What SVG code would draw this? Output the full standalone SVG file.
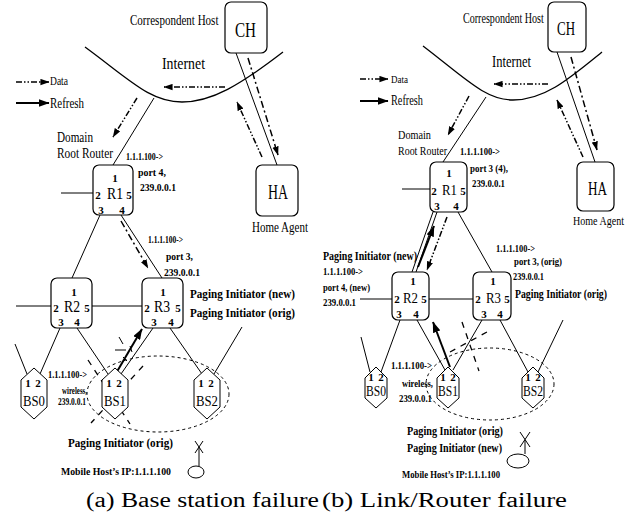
<svg xmlns="http://www.w3.org/2000/svg" width="641" height="516" viewBox="0 0 641 516">
<style>
  text { font-family: "Liberation Serif", "Times New Roman", serif; fill: #000; }
  .m { text-anchor: middle; }
  .box { fill: #fff; stroke: #000; stroke-width: 1.2; }
  .hex { fill: #fff; stroke: #000; stroke-width: 1; }
  .ln { stroke: #000; stroke-width: 1; fill: none; }
  .crv { stroke: #000; stroke-width: 1.3; fill: none; }
  .d1 { stroke: #000; stroke-width: 1.5; fill: none; stroke-dasharray: 6 2 1.5 2 1.5 2; }
  .d2 { stroke: #000; stroke-width: 1.5; fill: none; stroke-dasharray: 7 3 2 3; }
  .rf { stroke: #000; stroke-width: 2; fill: none; }
  .el { stroke: #000; stroke-width: 1; fill: none; stroke-dasharray: 3 3; }
  .x { stroke: #000; stroke-width: 1.3; fill: none; stroke-dasharray: 6 6; }
  .p { font-size: 11px; font-weight: bold; }
  .rt { font-size: 16px; }
  .rt2 { font-size: 15px; }
  .bs { font-size: 15px; }
  .lb { font-size: 11px; font-weight: bold; }
  .pi { font-size: 13px; font-weight: bold; }
</style>
<defs>
  <marker id="ah" viewBox="0 0 10 7" refX="9.5" refY="3.5" markerWidth="9" markerHeight="7" markerUnits="userSpaceOnUse" orient="auto">
    <path d="M0,0 L10,3.5 L0,7 z" fill="#000"/>
  </marker>
  <marker id="ahb" viewBox="0 0 10 7" refX="9.5" refY="3.5" markerWidth="11" markerHeight="8" markerUnits="userSpaceOnUse" orient="auto">
    <path d="M0,0 L10,3.5 L0,7 z" fill="#000"/>
  </marker>
</defs>

<rect width="641" height="516" fill="#fff"/>

<!-- ===== Connectors ===== -->
<g id="connectors">
  <!-- left panel -->
  <path class="crv" d="M85,47 C130,80 150,102 182,102 C212,102 240,85 283,52"/>
  <line class="ln" x1="154" y1="98" x2="113" y2="165"/>
  <line class="ln" x1="236" y1="53" x2="277" y2="165"/>
  <line class="d1" x1="225" y1="87" x2="164" y2="87" marker-end="url(#ah)"/>
  <line class="d1" x1="137" y1="98" x2="113" y2="137" marker-end="url(#ah)"/>
  <line class="d2" x1="248" y1="58" x2="278" y2="155" marker-end="url(#ah)"/>
  <line class="d1" x1="262" y1="157" x2="237" y2="102" marker-end="url(#ah)"/>
  <line class="d1" x1="16" y1="82" x2="49" y2="82" marker-end="url(#ah)"/>
  <line class="rf" x1="16" y1="103" x2="49" y2="103" marker-end="url(#ahb)"/>
  <line class="ln" x1="61" y1="193" x2="93" y2="193"/>
  <line class="ln" x1="100" y1="215" x2="72" y2="278"/>
  <line class="ln" x1="121" y1="215" x2="162" y2="278"/>
  <line class="d2" x1="121" y1="221" x2="148" y2="268" marker-end="url(#ah)"/>
  <line class="ln" x1="16" y1="306" x2="51" y2="306"/>
  <line class="ln" x1="92" y1="306" x2="142" y2="306"/>
  <line class="ln" x1="15" y1="344" x2="27" y2="374"/>
  <line class="ln" x1="60" y1="328" x2="40" y2="374"/>
  <line class="ln" x1="77" y1="328" x2="108" y2="374"/>
  <line class="ln" x1="153" y1="328" x2="121" y2="374"/>
  <line class="ln" x1="170" y1="328" x2="202" y2="374"/>
  <line class="ln" x1="242" y1="327" x2="214" y2="374"/>
  <line class="rf" x1="115" y1="375" x2="142" y2="329" marker-end="url(#ahb)"/>
  <ellipse class="el" cx="158" cy="394" rx="71" ry="38"/>
  <line class="x" x1="88" y1="360" x2="130" y2="424"/>
  <line class="x" x1="143" y1="366" x2="91" y2="423"/>
  <line class="ln" x1="115" y1="350" x2="126" y2="350" stroke-width="2"/>
  <line class="ln" x1="119" y1="337" x2="123" y2="344"/>
  <line class="ln" x1="130" y1="346" x2="132" y2="352"/>
  <line class="ln" x1="123" y1="357" x2="127" y2="361"/>

  <!-- right panel -->
  <path class="crv" d="M423,46 C465,78 485,100 513,100 C545,100 570,78 602,52"/>
  <line class="ln" x1="486" y1="97" x2="443" y2="162"/>
  <line class="ln" x1="557" y1="52" x2="595" y2="162"/>
  <line class="d1" x1="548" y1="84" x2="494" y2="84" marker-end="url(#ah)"/>
  <line class="d1" x1="469" y1="96" x2="448" y2="135" marker-end="url(#ah)"/>
  <line class="d2" x1="571" y1="57" x2="597" y2="150" marker-end="url(#ah)"/>
  <line class="d1" x1="583" y1="157" x2="557" y2="100" marker-end="url(#ah)"/>
  <line class="d1" x1="360" y1="79" x2="388" y2="79" marker-end="url(#ah)"/>
  <line class="rf" x1="360" y1="101" x2="388" y2="101" marker-end="url(#ahb)"/>
  <line class="ln" x1="402" y1="189" x2="430" y2="189"/>
  <line class="ln" x1="433" y1="212" x2="412" y2="272"/>
  <line class="ln" x1="437" y1="212" x2="416" y2="272"/>
  <line class="rf" x1="418" y1="267" x2="434" y2="226" marker-end="url(#ahb)"/>
  <line class="d1" x1="447" y1="217" x2="427" y2="270" marker-end="url(#ah)"/>
  <line class="ln" x1="458" y1="212" x2="492" y2="272"/>
  <line class="ln" x1="360" y1="299" x2="392" y2="299"/>
  <line class="ln" x1="429" y1="299" x2="473" y2="299"/>
  <line class="ln" x1="361" y1="337" x2="370" y2="372"/>
  <line class="ln" x1="400" y1="320" x2="381" y2="372"/>
  <line class="ln" x1="417" y1="320" x2="445" y2="370"/>
  <line class="ln" x1="482" y1="320" x2="453" y2="370"/>
  <line class="ln" x1="500" y1="320" x2="528" y2="372"/>
  <line class="ln" x1="563" y1="320" x2="538" y2="372"/>
  <line class="rf" x1="450" y1="367" x2="433" y2="322" marker-end="url(#ahb)"/>
  <ellipse class="el" cx="490" cy="384" rx="64" ry="36"/>
  <line class="x" x1="462" y1="322" x2="479" y2="371"/>
  <line class="x" x1="450" y1="352" x2="487" y2="332"/>
</g>

<!-- ===== Left panel nodes ===== -->
<g id="legend-a">
  <text x="50" y="85" font-size="12" textLength="18" lengthAdjust="spacingAndGlyphs">Data</text>
  <text x="50" y="108" font-size="15" textLength="34" lengthAdjust="spacingAndGlyphs">Refresh</text>
</g>
<g id="internet-a">
  <text x="162" y="69" font-size="17" textLength="43" lengthAdjust="spacingAndGlyphs">Internet</text>
</g>
<g id="CH-a">
  <rect class="box" x="225" y="2" width="42" height="51" rx="6"/>
  <text x="235" y="37" font-size="20" textLength="21" lengthAdjust="spacingAndGlyphs">CH</text>
  <text transform="translate(130,25) scale(0.735,1)" font-size="15">Correspondent Host</text>
</g>
<g id="HA-a">
  <rect class="box" x="256" y="165" width="42" height="51" rx="6"/>
  <text x="268" y="199" font-size="20" textLength="20" lengthAdjust="spacingAndGlyphs">HA</text>
  <text x="252" y="232" font-size="14" textLength="56" lengthAdjust="spacingAndGlyphs">Home Agent</text>
</g>
<g id="R1-a">
  <rect class="box" x="93" y="165" width="40" height="50" rx="6"/>
  <text class="p m" x="115" y="182">1</text>
  <text class="p m" x="98" y="199">2</text>
  <text class="rt" x="107" y="199" textLength="16" lengthAdjust="spacingAndGlyphs">R1</text>
  <text class="p m" x="129" y="199">5</text>
  <text class="p m" x="101" y="214">3</text>
  <text class="p m" x="122" y="214">4</text>
  <text x="57" y="142" font-size="14" textLength="36" lengthAdjust="spacingAndGlyphs">Domain</text>
  <text x="57" y="158" font-size="14" textLength="56" lengthAdjust="spacingAndGlyphs">Root Router</text>
  <text class="lb" x="126" y="160" textLength="37" lengthAdjust="spacingAndGlyphs">1.1.1.100-&gt;</text>
  <text class="lb" x="138" y="176" font-size="12" textLength="28" lengthAdjust="spacingAndGlyphs">port 4,</text>
  <text class="lb" x="140" y="191" textLength="36" lengthAdjust="spacingAndGlyphs">239.0.0.1</text>
</g>
<g id="R2-a">
  <rect class="box" x="51" y="278" width="41" height="50" rx="6"/>
  <text class="p m" x="74" y="296">1</text>
  <text class="p m" x="56" y="312">2</text>
  <text class="rt" x="64" y="312" textLength="16" lengthAdjust="spacingAndGlyphs">R2</text>
  <text class="p m" x="87" y="312">5</text>
  <text class="p m" x="61" y="326">3</text>
  <text class="p m" x="77" y="326">4</text>
</g>
<g id="R3-a">
  <rect class="box" x="142" y="278" width="41" height="50" rx="6"/>
  <text class="p m" x="163" y="296">1</text>
  <text class="p m" x="147" y="312">2</text>
  <text class="rt" x="154" y="312" textLength="16" lengthAdjust="spacingAndGlyphs">R3</text>
  <text class="p m" x="178" y="312">5</text>
  <text class="p m" x="154" y="326">3</text>
  <text class="p m" x="171" y="326">4</text>
  <text class="lb" x="148" y="243" textLength="35" lengthAdjust="spacingAndGlyphs">1.1.1.100-&gt;</text>
  <text class="lb" x="166" y="260" font-size="12" textLength="27" lengthAdjust="spacingAndGlyphs">port 3,</text>
  <text class="lb" x="164" y="276" textLength="36" lengthAdjust="spacingAndGlyphs">239.0.0.1</text>
  <text class="pi" x="190" y="298" textLength="105" lengthAdjust="spacingAndGlyphs">Paging Initiator (new)</text>
  <text class="pi" x="190" y="317" textLength="105" lengthAdjust="spacingAndGlyphs">Paging Initiator (orig)</text>
</g>
<g id="BS0-a">
  <polygon class="hex" points="34,368 47,380 47,407 34,419 21,407 21,380"/>
  <text class="p m" x="28" y="387" font-size="12">1</text>
  <text class="p m" x="38" y="387" font-size="12">2</text>
  <text class="bs" x="23" y="406" textLength="22" lengthAdjust="spacingAndGlyphs">BS0</text>
</g>
<g id="BS1-a">
  <polygon class="hex" points="115,368 128,380 128,407 115,419 102,407 102,380"/>
  <text class="p m" x="109" y="387" font-size="12">1</text>
  <text class="p m" x="119" y="387" font-size="12">2</text>
  <text class="bs" x="104" y="406" textLength="22" lengthAdjust="spacingAndGlyphs">BS1</text>
  <text class="lb" x="48" y="378" textLength="39" lengthAdjust="spacingAndGlyphs">1.1.1.100-&gt;</text>
  <text class="lb" x="62" y="394" textLength="25" lengthAdjust="spacingAndGlyphs">wireless,</text>
  <text class="lb" x="58" y="405" textLength="28" lengthAdjust="spacingAndGlyphs">239.0.0.1</text>
</g>
<g id="BS2-a">
  <polygon class="hex" points="207,368 220,380 220,407 207,419 194,407 194,380"/>
  <text class="p m" x="201" y="387" font-size="12">1</text>
  <text class="p m" x="211" y="387" font-size="12">2</text>
  <text class="bs" x="196" y="406" textLength="22" lengthAdjust="spacingAndGlyphs">BS2</text>
</g>
<g id="MH-a">
  <text class="pi" x="68" y="447" textLength="105" lengthAdjust="spacingAndGlyphs">Paging Initiator (orig)</text>
  <ellipse cx="196" cy="472" rx="8" ry="6" fill="#fff" stroke="#000" stroke-width="1"/>
  <line class="ln" x1="199" y1="466" x2="199" y2="447"/>
  <line class="ln" x1="195" y1="441" x2="203" y2="453"/>
  <line class="ln" x1="203" y1="441" x2="195" y2="453"/>
  <text class="lb" x="61" y="475" textLength="110" lengthAdjust="spacingAndGlyphs">Mobile Host’s IP:1.1.1.100</text>
</g>

<!-- ===== Right panel nodes ===== -->
<g id="legend-b">
  <text x="391" y="83" font-size="11" textLength="17" lengthAdjust="spacingAndGlyphs">Data</text>
  <text x="391" y="105" font-size="14" textLength="32" lengthAdjust="spacingAndGlyphs">Refresh</text>
</g>
<g id="internet-b">
  <text x="492" y="67" font-size="16" textLength="39" lengthAdjust="spacingAndGlyphs">Internet</text>
</g>
<g id="CH-b">
  <rect class="box" x="548" y="2" width="38" height="50" rx="6"/>
  <text x="557" y="35" font-size="18" textLength="18" lengthAdjust="spacingAndGlyphs">CH</text>
  <text transform="translate(463,23) scale(0.72,1)" font-size="14">Correspondent Host</text>
</g>
<g id="HA-b">
  <rect class="box" x="577" y="162" width="37" height="49" rx="6"/>
  <text x="588" y="195" font-size="18" textLength="19" lengthAdjust="spacingAndGlyphs">HA</text>
  <text x="573" y="225" font-size="13" textLength="51" lengthAdjust="spacingAndGlyphs">Home Agent</text>
</g>
<g id="R1-b">
  <rect class="box" x="430" y="162" width="37" height="50" rx="6"/>
  <text class="p m" x="449" y="177">1</text>
  <text class="p m" x="434" y="195">2</text>
  <text class="rt2" x="442" y="195" textLength="15" lengthAdjust="spacingAndGlyphs">R1</text>
  <text class="p m" x="463" y="195">5</text>
  <text class="p m" x="437" y="210">3</text>
  <text class="p m" x="456" y="210">4</text>
  <text x="398" y="139" font-size="13" textLength="33" lengthAdjust="spacingAndGlyphs">Domain</text>
  <text x="398" y="155" font-size="13" textLength="49" lengthAdjust="spacingAndGlyphs">Root Router</text>
  <text class="lb" x="460" y="155" textLength="40" lengthAdjust="spacingAndGlyphs">1.1.1.100-&gt;</text>
  <text class="lb" x="470" y="172" textLength="38" lengthAdjust="spacingAndGlyphs">port 3 (4),</text>
  <text class="lb" x="472" y="187" textLength="33" lengthAdjust="spacingAndGlyphs">239.0.0.1</text>
</g>
<g id="R2-b">
  <rect class="box" x="392" y="272" width="37" height="48" rx="6"/>
  <text class="p m" x="413" y="285">1</text>
  <text class="p m" x="397" y="303">2</text>
  <text class="rt2" x="403" y="303" textLength="15" lengthAdjust="spacingAndGlyphs">R2</text>
  <text class="p m" x="424" y="303">5</text>
  <text class="p m" x="399" y="318">3</text>
  <text class="p m" x="416" y="318">4</text>
  <text class="pi" x="323" y="260" font-size="12.5" textLength="94" lengthAdjust="spacingAndGlyphs">Paging Initiator (new)</text>
  <text class="lb" x="323" y="275" textLength="40" lengthAdjust="spacingAndGlyphs">1.1.1.100-&gt;</text>
  <text class="lb" x="323" y="291" textLength="47" lengthAdjust="spacingAndGlyphs">port 4, (new)</text>
  <text class="lb" x="323" y="306" textLength="33" lengthAdjust="spacingAndGlyphs">239.0.0.1</text>
</g>
<g id="R3-b">
  <rect class="box" x="473" y="272" width="38" height="48" rx="6"/>
  <text class="p m" x="493" y="285">1</text>
  <text class="p m" x="478" y="303">2</text>
  <text class="rt2" x="486" y="303" textLength="15" lengthAdjust="spacingAndGlyphs">R3</text>
  <text class="p m" x="507" y="303">5</text>
  <text class="p m" x="484" y="318">3</text>
  <text class="p m" x="500" y="318">4</text>
  <text class="lb" x="496" y="252" textLength="39" lengthAdjust="spacingAndGlyphs">1.1.1.100-&gt;</text>
  <text class="lb" x="514" y="265" textLength="48" lengthAdjust="spacingAndGlyphs">port 3, (orig)</text>
  <text class="lb" x="513" y="280" textLength="31" lengthAdjust="spacingAndGlyphs">239.0.0.1</text>
  <text class="pi" x="515" y="298" font-size="12.5" textLength="92" lengthAdjust="spacingAndGlyphs">Paging Initiator (orig)</text>
</g>
<g id="BS0-b">
  <polygon class="hex" points="376,367 387,378 387,398 376,408 365,398 365,378"/>
  <text class="p m" x="371" y="381">1</text>
  <text class="p m" x="381" y="381">2</text>
  <text class="bs" x="366" y="396" font-size="14" textLength="20" lengthAdjust="spacingAndGlyphs">BS0</text>
</g>
<g id="BS1-b">
  <polygon class="hex" points="448,367 459,378 459,398 448,408 437,398 437,378"/>
  <text class="p m" x="443" y="381">1</text>
  <text class="p m" x="453" y="381">2</text>
  <text class="bs" x="438" y="396" font-size="14" textLength="20" lengthAdjust="spacingAndGlyphs">BS1</text>
  <text class="lb" x="391" y="369" textLength="41" lengthAdjust="spacingAndGlyphs">1.1.1.100-&gt;</text>
  <text class="lb" x="402" y="387" textLength="31" lengthAdjust="spacingAndGlyphs">wireless,</text>
  <text class="lb" x="399" y="402" textLength="33" lengthAdjust="spacingAndGlyphs">239.0.0.1</text>
</g>
<g id="BS2-b">
  <polygon class="hex" points="533,367 544,378 544,398 533,408 522,398 522,378"/>
  <text class="p m" x="528" y="381">1</text>
  <text class="p m" x="538" y="381">2</text>
  <text class="bs" x="523" y="396" font-size="14" textLength="20" lengthAdjust="spacingAndGlyphs">BS2</text>
</g>
<g id="MH-b">
  <text class="pi" x="407" y="435" font-size="12.5" textLength="96" lengthAdjust="spacingAndGlyphs">Paging Initiator (orig)</text>
  <text class="pi" x="407" y="452" font-size="12.5" textLength="95" lengthAdjust="spacingAndGlyphs">Paging Initiator (new)</text>
  <ellipse cx="518" cy="461" rx="11" ry="7" fill="#fff" stroke="#000" stroke-width="1"/>
  <line class="ln" x1="525" y1="454" x2="525" y2="440"/>
  <line class="ln" x1="520" y1="432" x2="530" y2="447"/>
  <line class="ln" x1="530" y1="432" x2="520" y2="447"/>
  <text class="lb" x="402" y="478" textLength="98" lengthAdjust="spacingAndGlyphs">Mobile Host’s IP:1.1.1.100</text>
</g>

<!-- ===== Captions ===== -->
<g id="captions">
  <text x="86" y="507" font-size="20" textLength="233" lengthAdjust="spacingAndGlyphs">(a) Base station failure</text>
  <text x="322" y="507" font-size="20" textLength="245" lengthAdjust="spacingAndGlyphs">(b) Link/Router failure</text>
</g>
</svg>
